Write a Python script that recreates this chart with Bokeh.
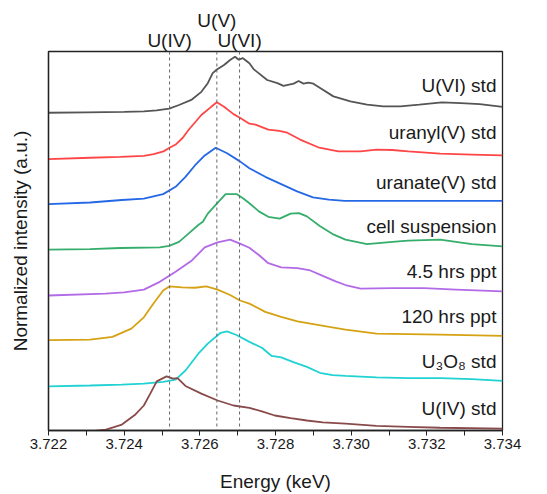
from bokeh.plotting import figure
from bokeh.models import Range1d, FixedTicker, NumeralTickFormatter, Span, ColumnDataSource, LinearAxis
from bokeh.core.properties import value
from bokeh.embed import file_html
from bokeh.resources import INLINE

# ---------------- data ----------------
e_u6 = [3.7220, 3.7230, 3.7240, 3.72452, 3.72486, 3.72519, 3.72545, 3.72579, 3.72604, 3.72621,
        3.72634, 3.72645, 3.72664, 3.7268, 3.72693, 3.72702, 3.72714, 3.72731, 3.72742, 3.72778,
        3.72805, 3.72821, 3.72848, 3.72861, 3.72874, 3.72887, 3.7290, 3.72919, 3.72953, 3.72998,
        3.73042, 3.73085, 3.7313, 3.7318, 3.7324, 3.7329, 3.7334, 3.7340]
i_u6 = [-0.01, 0.0, 0.01, 0.02, 0.04, 0.08, 0.16, 0.28, 0.45, 0.64,
        0.86, 0.94, 1.04, 1.15, 1.22, 1.16, 1.19, 1.08, 0.95, 0.71,
        0.64, 0.58, 0.63, 0.69, 0.63, 0.65, 0.63, 0.53, 0.35, 0.24,
        0.17, 0.13, 0.13, 0.17, 0.22, 0.20, 0.18, 0.12]

e_uranyl = [3.7220, 3.7231, 3.7239, 3.72452, 3.72478, 3.72504, 3.7252, 3.72536, 3.72555, 3.7257,
            3.72604, 3.7263, 3.72645, 3.72664, 3.72689, 3.72706, 3.72731, 3.72747, 3.72781, 3.7281,
            3.72831, 3.72865, 3.72916, 3.72966, 3.73025, 3.73067, 3.73109, 3.73151, 3.73235, 3.73319,
            3.7340]
i_uranyl = [-0.03, 0.0, 0.02, 0.04, 0.08, 0.14, 0.22, 0.29, 0.44, 0.61,
            0.94, 1.12, 1.22, 1.12, 0.96, 0.88, 0.75, 0.73, 0.62, 0.59,
            0.55, 0.40, 0.22, 0.14, 0.14, 0.18, 0.17, 0.14, 0.09, 0.07,
            0.05]

e_uranate = [3.7220, 3.7231, 3.72394, 3.72452, 3.72503, 3.72536, 3.72562, 3.72587, 3.72613, 3.72642,
             3.72672, 3.72706, 3.72731, 3.72773, 3.72815, 3.72857, 3.72899, 3.72941, 3.72983, 3.73067,
             3.73151, 3.73235, 3.7340]
i_uranate = [-0.02, 0.015, 0.07, 0.10, 0.20, 0.36, 0.58, 0.83, 1.05, 1.22,
             1.10, 0.92, 0.77, 0.58, 0.42, 0.26, 0.13, 0.08, 0.05, 0.05,
             0.05, 0.05, 0.05]

e_cell = [3.7220, 3.7231, 3.7239, 3.72494, 3.72519, 3.72545, 3.7257, 3.72596, 3.72608, 3.72621,
          3.72645, 3.72668, 3.72697, 3.72714, 3.72731, 3.72756, 3.72781, 3.72811, 3.7284, 3.72862,
          3.72883, 3.72917, 3.72951, 3.72985, 3.73042, 3.73109, 3.73151, 3.73235, 3.73319, 3.7340]
i_cell = [-0.02, -0.01, 0.015, 0.03, 0.06, 0.15, 0.33, 0.52, 0.59, 0.77,
          0.99, 1.20, 1.20, 1.11, 1.00, 0.82, 0.70, 0.66, 0.77, 0.78,
          0.71, 0.50, 0.32, 0.20, 0.10, 0.15, 0.175, 0.20, 0.10, 0.05]

e_45h = [3.7220, 3.7235, 3.7240, 3.72452, 3.72494, 3.72536, 3.72579, 3.72613, 3.72647, 3.7268,
         3.72706, 3.72731, 3.72756, 3.72781, 3.72815, 3.72858, 3.72892, 3.72925, 3.72959, 3.72985,
         3.73025, 3.73109, 3.73193, 3.73277, 3.7340]
i_45h = [-0.03, 0.01, 0.04, 0.10, 0.27, 0.49, 0.74, 1.03, 1.14, 1.20,
         1.11, 1.02, 0.86, 0.68, 0.59, 0.57, 0.52, 0.40, 0.28, 0.20,
         0.12, 0.13, 0.13, 0.10, 0.06]

e_120h = [3.7220, 3.7231, 3.72369, 3.72419, 3.72452, 3.72477, 3.72503, 3.72519, 3.72553, 3.72587,
          3.72617, 3.72647, 3.7268, 3.72706, 3.72731, 3.72773, 3.72815, 3.72858, 3.7290, 3.72942,
          3.72985, 3.73067, 3.73151, 3.73235, 3.7340]
i_120h = [-0.01, 0.0, 0.06, 0.24, 0.49, 0.79, 1.08, 1.17, 1.15, 1.14,
          1.17, 1.10, 0.98, 0.86, 0.79, 0.61, 0.50, 0.40, 0.34, 0.28,
          0.22, 0.13, 0.12, 0.11, 0.08]

e_u3o8 = [3.7220, 3.7231, 3.72394, 3.72452, 3.72503, 3.72536, 3.72562, 3.72596, 3.72621, 3.72655,
          3.72672, 3.72697, 3.72731, 3.72764, 3.7279, 3.72815, 3.72849, 3.72883, 3.72917, 3.72951,
          3.72985, 3.73067, 3.73151, 3.73235, 3.73319, 3.7340]
i_u3o8 = [-0.03, -0.01, 0.01, 0.03, 0.07, 0.12, 0.32, 0.69, 0.91, 1.15,
          1.18, 1.10, 0.95, 0.82, 0.64, 0.61, 0.50, 0.40, 0.27, 0.22,
          0.20, 0.17, 0.15, 0.15, 0.13, 0.09]

e_u4 = [3.7220, 3.7231, 3.72352, 3.72394, 3.72428, 3.72452, 3.72469, 3.72486, 3.72512, 3.72529,
        3.72541, 3.72562, 3.72604, 3.72647, 3.72689, 3.72731, 3.72764, 3.72798, 3.7284, 3.72883,
        3.72925, 3.72985, 3.73067, 3.73151, 3.73235, 3.7340]
i_u4 = [-0.03, -0.02, 0.02, 0.13, 0.34, 0.55, 0.81, 1.08, 1.19, 1.14,
        1.15, 0.98, 0.81, 0.66, 0.55, 0.50, 0.42, 0.33, 0.27, 0.22,
        0.18, 0.15, 0.10, 0.08, 0.06, 0.04]

series_names = ["U(VI) std", "uranyl(V) std", "uranate(V) std", "cell suspension",
                "4.5 hrs ppt", "120 hrs ppt", "U\u2083O\u2088 std", "U(IV) std"]
series_e = [e_u6, e_uranyl, e_uranate, e_cell, e_45h, e_120h, e_u3o8, e_u4]
series_i = [i_u6, i_uranyl, i_uranate, i_cell, i_45h, i_120h, i_u3o8, i_u4]
series_offset = [7, 6, 5, 4, 3, 2, 1, 0]

edge_names = ["U(IV)", "U(V)", "U(VI)"]
edge_energy = [3.7252, 3.72645, 3.72705]

x_ticks = [3.722, 3.724, 3.726, 3.728, 3.730, 3.732, 3.734]
x_minor = [3.723, 3.725, 3.727, 3.729, 3.731, 3.733]

# ---------------- layout / style ----------------
label_lift = [0.58, 0.56, 0.46, 0.48, 0.5, 0.5, 0.52, 0.49]
colors = ["#555555", "#ff4646", "#2468e6", "#35ad6b", "#b36ae6", "#d6a213", "#21d2d2", "#8a4a4a"]
FONT = "Liberation Sans"
TXT = "#1a1a1a"

p = figure(width=547, height=494, output_backend="svg", toolbar_location=None,
           x_range=Range1d(3.722, 3.734), y_range=Range1d(0.0, 8.337))
p.min_border_left = 48
p.min_border_right = 45
p.min_border_top = 51
p.min_border_bottom = 62
p.background_fill_color = "white"
p.border_fill_color = "white"
p.outline_line_color = "#222222"
p.outline_line_width = 1.3
p.xgrid.visible = False
p.ygrid.visible = False

xa = p.below[0]
ya = p.left[0]

for e, iv, off, c in zip(series_e, series_i, series_offset, colors):
    p.line(list(e), [v + off for v in iv], line_color=c, line_width=1.8)

for en in edge_energy:
    p.add_layout(Span(location=en, dimension="height", line_color="#666666",
                      line_dash="3 3", line_width=1))

# right-side series labels
lab_src = ColumnDataSource(dict(
    x=[3.73384] * len(series_names),
    y=[o + l for o, l in zip(series_offset, label_lift)],
    text=series_names))
p.text(x="x", y="y", text="text", source=lab_src, text_align="right", text_baseline="middle",
       text_font=value(FONT), text_font_size=value("19px"), text_color=TXT)


def edge_axis(idx, standoff):
    ax = LinearAxis(ticker=FixedTicker(ticks=[edge_energy[i] for i in idx]),
                    major_label_overrides={edge_energy[i]: edge_names[i] for i in idx})
    ax.axis_line_color = None
    ax.major_tick_line_color = None
    ax.minor_tick_line_color = None
    ax.major_tick_in = 0
    ax.major_tick_out = 0
    ax.minor_tick_in = 0
    ax.minor_tick_out = 0
    ax.major_label_standoff = standoff
    ax.major_label_text_font = FONT
    ax.major_label_text_font_size = "19px"
    ax.major_label_text_color = TXT
    return ax


p.add_layout(edge_axis([0, 2], 1), "above")
p.add_layout(edge_axis([1], -4), "above")

xa.ticker = FixedTicker(ticks=x_ticks, minor_ticks=x_minor)
xa.formatter = NumeralTickFormatter(format="0.000")
xa.major_tick_in = 0
xa.major_tick_out = 5
xa.minor_tick_in = 0
xa.minor_tick_out = 5
xa.major_tick_line_color = "#222222"
xa.minor_tick_line_color = "#222222"
xa.axis_line_color = "#222222"
xa.axis_line_width = 1.3
xa.major_label_text_font = FONT
xa.major_label_text_font_size = "15px"
xa.major_label_text_color = TXT
xa.major_label_standoff = 3
xa.axis_label = "Energy (keV)"
xa.axis_label_text_font = FONT
xa.axis_label_text_font_size = "19px"
xa.axis_label_text_font_style = "normal"
xa.axis_label_text_color = TXT
xa.axis_label_standoff = 19

ya.ticker = FixedTicker(ticks=[])
ya.major_tick_out = 0
ya.minor_tick_out = 0
ya.major_label_text_font_size = "0px"
ya.axis_line_color = "#222222"
ya.axis_line_width = 1.3
ya.axis_label = "Normalized intensity (a.u.)"
ya.axis_label_text_font = FONT
ya.axis_label_text_font_size = "19px"
ya.axis_label_text_font_style = "normal"
ya.axis_label_text_color = TXT
ya.axis_label_standoff = 18

open("out.html", "w").write(file_html(p, INLINE))
